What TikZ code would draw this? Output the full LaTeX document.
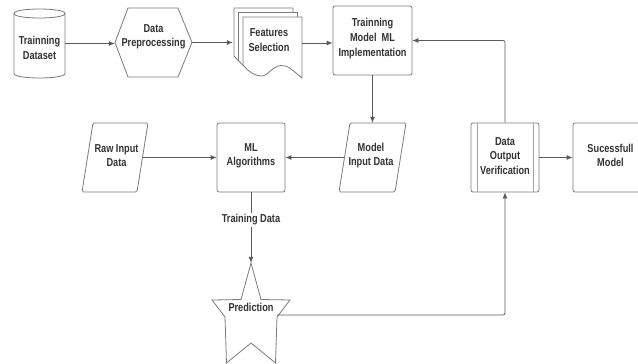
\documentclass[tikz,border=0pt]{standalone}
\usepackage{fontspec}
\setmainfont{Liberation Sans}[FakeStretch=0.8,UprightFont=* Bold]
\usetikzlibrary{arrows.meta}
\definecolor{shapecol}{HTML}{7A7A7A}
\definecolor{linecol}{HTML}{5A5A5A}
\definecolor{txtcol}{HTML}{333333}
\begin{document}
\begin{tikzpicture}[x=1pt,y=-1pt,
  font=\fontsize{11.5}{14.7}\selectfont,
  shp/.style={draw=shapecol, line width=0.8pt, fill=white},
  box/.style={inner sep=0, draw=none},
  txt/.style={inner sep=0, align=center, text=txtcol},
  conn/.style={draw=linecol, line width=0.8pt},
  arr/.style={conn, -{Latex[length=6pt,width=5pt]}},
]
\useasboundingbox (0,0) rectangle (638,364);
\clip (0,0) rectangle (638,364);

% ---- cylinder: Trainning Dataset
\draw[shp] (14,13.5) -- (14,73.5) .. controls (14,79.5) and (65,79.5) .. (65,73.5)
  -- (65,13.5) .. controls (65,7.5) and (14,7.5) .. (14,13.5) -- cycle;
\draw[shp, fill=none] (14,13.5) .. controls (14,19.5) and (65,19.5) .. (65,13.5);
\node[box, minimum width=51, minimum height=69] (ds) at (39.5,43.5) {};
\node[txt] (dst) at (39.5,48) {Trainning\\Dataset};

% ---- hexagon: Data Preprocessing
\draw[shp] (115,42.5) -- (128,8) -- (178,8) -- (192,42.5) -- (178,77) -- (128,77) -- cycle;
\node[box, minimum width=77, minimum height=69] (hex) at (153.5,42.5) {};
\node[txt] (hext) at (153.5,36.7) {Data\\Preprocessing};

% ---- multi document: Features Selection
\foreach \d in {9,4.5,0} {
  \draw[shp, shift={(-\d,-\d)}] (243,17) -- (302,17) -- (302,78)
    .. controls (292,70) and (288,65) .. (281,65.5)
    .. controls (272,66) and (268,76.5) .. (261,76)
    .. controls (253,75.5) and (247,70) .. (243,65) -- cycle;
}
\node[box, minimum width=69, minimum height=70] (feat) at (267.5,43) {};
\node[txt] (featt) at (269,40) {Features\\Selection};

% ---- Trainning Model ML Implementation
\node[shp, rounded corners=2pt, minimum width=79, minimum height=69, inner sep=0] (tm) at (372.5,40.5) {};
\node[txt] (tmt) at (372.5,38.7) {Trainning\\Model\ \ ML\\Implementation};

% ---- Raw Input Data
\draw[shp, rounded corners=1.5pt] (82,192) -- (93,123) -- (148,123) -- (137,192) -- cycle;
\node[box, minimum width=55, minimum height=69] (raw) at (115,157.5) {};
\node[txt] (rawt) at (116.5,155.5) {Raw Input\\Data};

% ---- ML Algorithms
\node[shp, rounded corners=2pt, minimum width=68, minimum height=69, inner sep=0] (ml) at (251,157.5) {};
\node[txt] (mlt) at (251,155.8) {ML\\Algorithms};

% ---- Model Input Data
\draw[shp, rounded corners=1.5pt] (339,192) -- (350,123) -- (406,123) -- (395,192) -- cycle;
\node[box, minimum width=56, minimum height=69] (mid) at (372.5,157.5) {};
\node[txt] (midt) at (371,155.5) {Model\\Input Data};

% ---- Data Output Verification
\node[shp, rounded corners=2pt, minimum width=68, minimum height=69, inner sep=0] (dov) at (505,157.5) {};
\draw[draw=shapecol!70, line width=0.6pt] (477,123) -- (477,192);
\draw[draw=shapecol!70, line width=0.6pt] (533,123) -- (533,192);
\node[txt] (dovt) at (505,155.8) {Data\\Output\\Verification};

% ---- Sucessfull Model
\node[shp, rounded corners=2pt, minimum width=74, minimum height=69, inner sep=0] (succ) at (610,157.5) {};
\node[txt] (succt) at (610.5,155.5) {Sucessfull\\Model};

% ---- Training Data label
\node[txt, inner sep=1.5pt] (tdl) at (251,220) {Training Data};

% ---- star: Prediction
\draw[shp] (251,263) -- (261,299.5) -- (290,300) -- (277,317) -- (275.5,363)
  -- (251,343) -- (226.5,363) -- (225,317) -- (212,300) -- (241,299.5) -- cycle;
\node[box, minimum width=78, minimum height=100] (star) at (251,313) {};
\node[txt] (start) at (251,307) {Prediction};
\coordinate (pr) at (277,315);

% ---- connectors
\draw[arr] (ds.east) -- (ds.east -| hex.west);
\draw[arr] (hex.east) -- (hex.east -| feat.west);
\draw[arr] (feat.east) -- (feat.east -| tm.west);
\draw[arr] (tm.south) -- (mid.north);
\draw[arr] (mid.west) -- (ml.east);
\draw[arr] (raw.east) -- (ml.west);
\draw[conn] (ml.south) -- (tdl.north);
\draw[arr] (tdl.south) -- (star.north);
\draw[arr, rounded corners=2pt] (pr) -| (dov.south);
\draw[arr, rounded corners=2pt] (dov.north) |- (tm.east);
\draw[arr] (dov.east) -- (succ.west);
\end{tikzpicture}
\end{document}
